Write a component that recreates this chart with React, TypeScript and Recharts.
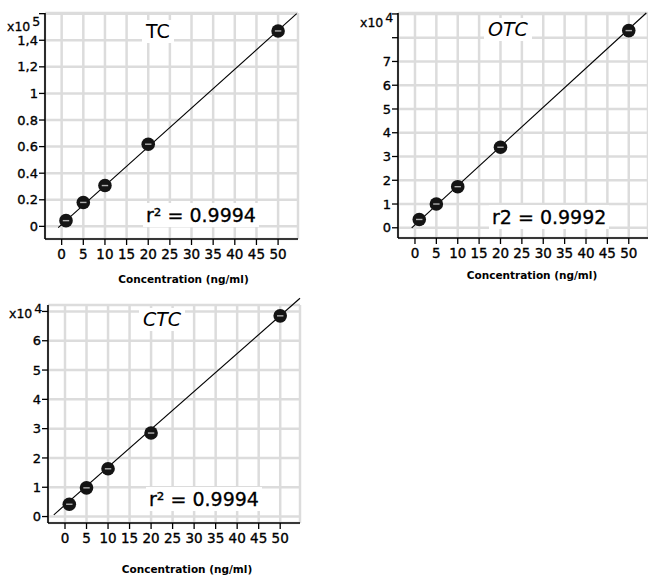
import React from 'react';
import { ComposedChart, Scatter, XAxis, YAxis, CartesianGrid, ReferenceLine, Label } from 'recharts';

// concentration (ng/ml) of the standards
const CONC = [1, 5, 10, 20, 50];
const CONC_TICKS = [0, 5, 10, 15, 20, 25, 30, 35, 40, 45, 50];

// peak areas (TC in x10^5, OTC / CTC in x10^4)
const TC_AREA = [0.043, 0.18, 0.307, 0.618, 1.47];
const OTC_AREA = [0.35, 1.0, 1.73, 3.39, 8.3];
const CTC_AREA = [0.42, 0.98, 1.63, 2.85, 6.85];

const TC_Y_TICKS = [0, 0.2, 0.4, 0.6, 0.8, 1, 1.2, 1.4, 1.6];
const TC_Y_LABELS = ['0', '0.2', '0.4', '0.6', '0.8', '1', '1,2', '1,4', ''];
const OTC_Y_TICKS = [0, 1, 2, 3, 4, 5, 6, 7, 8, 9];
const OTC_Y_LABELS = ['0', '1', '2', '3', '4', '5', '6', '7', '', ''];
const CTC_Y_TICKS = [0, 1, 2, 3, 4, 5, 6, 7];
const CTC_Y_LABELS = ['0', '1', '2', '3', '4', '5', '6', ''];

// regression line end points
const TC_FIT_X = [-0.8, 54.3];
const TC_FIT_Y = [-0.01, 1.6];
const OTC_FIT_X = [-0.77, 54.1];
const OTC_FIT_Y = [0, 9.04];
const CTC_FIT_X = [-2.6, 54.6];
const CTC_FIT_Y = [0.06, 7.45];

const FONT = '"DejaVu Sans", "Noto Sans", sans-serif';
const GRID = '#dcdcdc';

const Dot = (props: any) => {
  const { cx, cy } = props;
  if (cx == null || cy == null) return null;
  return (
    <g>
      <circle cx={cx} cy={cy} r={6.8} fill="#141414" />
      <line x1={cx - 3.2} x2={cx + 3.2} y1={cy} y2={cy} stroke="#b0b0b0" strokeWidth={1.4} />
    </g>
  );
};

interface PanelProps {
  left: number;
  top: number;
  width: number;
  height: number;
  margin: { top: number; right: number; left: number; bottom: number };
  yWidth: number;
  xHeight: number;
  xDomain: [number, number];
  yDomain: [number, number];
  yTicks: number[];
  yLabels: string[];
  values: number[];
  fitX: number[];
  fitY: number[];
  labelDx: number;
  labelOffset: number;
  title: string;
  titleItalic: boolean;
  titlePos: { left: number; top: number };
  r2: React.ReactNode;
  r2Pos: { left: number; top: number };
  exponent: string;
  expPos: { left: number; top: number };
}

const tickStyle = { fill: '#000', stroke: '#000', strokeWidth: 0.35 };

const Panel: React.FC<PanelProps> = (p) => {
  const data = CONC.map((x, i) => ({ x, y: p.values[i] }));
  return (
    <div style={{ position: 'absolute', left: p.left, top: p.top, width: p.width, height: p.height }}>
      <ComposedChart width={p.width} height={p.height} margin={p.margin} style={{ fontFamily: FONT }}>
        <CartesianGrid stroke={GRID} strokeWidth={2.5} />
        <XAxis
          type="number"
          dataKey="x"
          domain={p.xDomain}
          allowDataOverflow
          ticks={CONC_TICKS}
          interval={0}
          height={p.xHeight}
          tickSize={6}
          tickMargin={4}
          axisLine={{ stroke: '#000', strokeWidth: 1.6 }}
          tickLine={{ stroke: '#000', strokeWidth: 1.3 }}
          tick={{ ...tickStyle, fontSize: 13.5 }}
        >
          <Label
            value="Concentration (ng/ml)"
            position="insideBottom"
            offset={p.labelOffset}
            dx={p.labelDx}
            style={{ fill: '#000', fontSize: 10.5, fontWeight: 'bold', fontFamily: FONT }}
          />
        </XAxis>
        <YAxis
          type="number"
          dataKey="y"
          domain={p.yDomain}
          allowDataOverflow
          ticks={p.yTicks}
          interval={0}
          width={p.yWidth}
          tickSize={6}
          tickMargin={1}
          tickFormatter={(_v: number, i: number) => p.yLabels[i]}
          axisLine={{ stroke: '#000', strokeWidth: 1.6 }}
          tickLine={{ stroke: '#000', strokeWidth: 1.3 }}
          tick={{ ...tickStyle, fontSize: 13 }}
        />
        <ReferenceLine
          segment={[
            { x: p.fitX[0], y: p.fitY[0] },
            { x: p.fitX[1], y: p.fitY[1] },
          ]}
          stroke="#000"
          strokeWidth={1.1}
          ifOverflow="visible"
        />
        <Scatter data={data} shape={<Dot />} isAnimationActive={false} />
      </ComposedChart>
      <div
        style={{
          position: 'absolute',
          left: p.titlePos.left,
          top: p.titlePos.top,
          background: '#fff',
          padding: '1px 4px',
          fontFamily: FONT,
          fontSize: 19,
          lineHeight: '21px',
          fontStyle: p.titleItalic ? 'italic' : 'normal',
        }}
      >
        {p.title}
      </div>
      <div
        style={{
          position: 'absolute',
          left: p.r2Pos.left,
          top: p.r2Pos.top,
          background: '#fff',
          padding: '1px 3px',
          fontFamily: FONT,
          fontSize: 19,
          lineHeight: '22px',
          whiteSpace: 'nowrap',
          WebkitTextStroke: '0.3px #000',
        }}
      >
        {p.r2}
      </div>
      <div
        style={{
          position: 'absolute',
          left: p.expPos.left,
          top: p.expPos.top,
          fontFamily: FONT,
          fontSize: 12.5,
          lineHeight: '12px',
          whiteSpace: 'nowrap',
          WebkitTextStroke: '0.3px #000',
        }}
      >
        x10<span style={{ position: 'relative', top: -5, marginLeft: 2 }}>{p.exponent}</span>
      </div>
    </div>
  );
};

export default function App() {
  return (
    <div style={{ position: 'absolute', left: 0, top: 0, width: 648, height: 576, background: '#fff' }}>
      <Panel
        left={0}
        top={0}
        width={310}
        height={290}
        margin={{ top: 13, right: 12, left: 0, bottom: 0 }}
        yWidth={45}
        xHeight={51}
        xDomain={[-3.85, 54.6]}
        yDomain={[-0.095, 1.605]}
        yTicks={TC_Y_TICKS}
        yLabels={TC_Y_LABELS}
        values={TC_AREA}
        fitX={TC_FIT_X}
        fitY={TC_FIT_Y}
        labelDx={12}
        labelOffset={7}
        title="TC"
        titleItalic={false}
        titlePos={{ left: 142, top: 20 }}
        r2={<span>r² = 0.9994</span>}
        r2Pos={{ left: 143, top: 203 }}
        exponent="5"
        expPos={{ left: 7, top: 21 }}
      />
      <Panel
        left={340}
        top={0}
        width={308}
        height={290}
        margin={{ top: 13, right: 0, left: 0, bottom: 0 }}
        yWidth={58}
        xHeight={52}
        xDomain={[-3.97, 54.5]}
        yDomain={[-0.43, 9.04]}
        yTicks={OTC_Y_TICKS}
        yLabels={OTC_Y_LABELS}
        values={OTC_AREA}
        fitX={OTC_FIT_X}
        fitY={OTC_FIT_Y}
        labelDx={9}
        labelOffset={11}
        title="OTC"
        titleItalic={true}
        titlePos={{ left: 144, top: 18 }}
        r2={<span>r2 = 0.9992</span>}
        r2Pos={{ left: 149, top: 205 }}
        exponent="4"
        expPos={{ left: 20, top: 17 }}
      />
      <Panel
        left={0}
        top={290}
        width={310}
        height={286}
        margin={{ top: 15, right: 10, left: 0, bottom: 0 }}
        yWidth={48}
        xHeight={53}
        xDomain={[-3.95, 54.6]}
        yDomain={[-0.22, 7.22]}
        yTicks={CTC_Y_TICKS}
        yLabels={CTC_Y_LABELS}
        values={CTC_AREA}
        fitX={CTC_FIT_X}
        fitY={CTC_FIT_Y}
        labelDx={13}
        labelOffset={3}
        title="CTC"
        titleItalic={true}
        titlePos={{ left: 139, top: 18 }}
        r2={<span>r² = 0.9994</span>}
        r2Pos={{ left: 146, top: 197 }}
        exponent="4"
        expPos={{ left: 9, top: 18 }}
      />
    </div>
  );
}
